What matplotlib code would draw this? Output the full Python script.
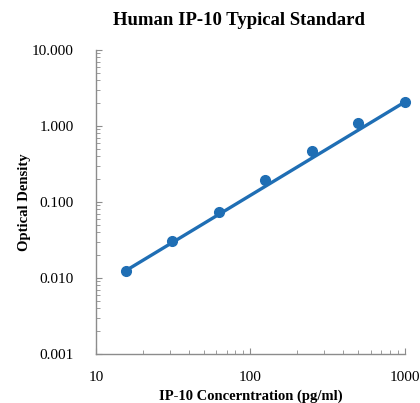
import numpy as np
import matplotlib
matplotlib.use("Agg")
import matplotlib.pyplot as plt
from matplotlib.ticker import FixedLocator, FixedFormatter, LogLocator, NullFormatter

# standard curve data
concentration = [15.6, 31.25, 62.5, 125, 250, 500, 1000]
optical_density = [0.0125, 0.031, 0.074, 0.194, 0.465, 1.08, 2.07]

x_ticks = [10, 100, 1000]
x_tick_labels = ["10", "100", "1000"]
y_ticks = [0.001, 0.01, 0.1, 1, 10]
y_tick_labels = ["0.001", "0.010", "0.100", "1.000", "10.000"]

plt.rcParams["font.family"] = ["Liberation Serif", "DejaVu Serif"]
blue = "#1F6EB4"
gray = "#8C8C8C"

fig = plt.figure(figsize=(4.2, 4.03), dpi=100)
ax = fig.add_axes([0.2286, 0.1216, 0.7354, 0.7544])

# straight trendline in log-log space from the lowest to the highest standard
fit_x = [concentration[0], concentration[-1]]
fit_y = [optical_density[0], optical_density[-1]]
ax.plot(fit_x, fit_y, color=blue, linewidth=2.4, solid_capstyle="round", clip_on=False)
ax.plot(concentration, optical_density, "o", color=blue, markersize=7, clip_on=False)

ax.set_xscale("log")
ax.set_yscale("log")
ax.set_xlim(10, 1000)
ax.set_ylim(0.001, 10)

ax.xaxis.set_major_locator(FixedLocator(x_ticks))
ax.xaxis.set_major_formatter(FixedFormatter(x_tick_labels))
ax.yaxis.set_major_locator(FixedLocator(y_ticks))
ax.yaxis.set_major_formatter(FixedFormatter(y_tick_labels))
ax.xaxis.set_minor_locator(LogLocator(base=10, subs=np.arange(2, 10)))
ax.yaxis.set_minor_locator(LogLocator(base=10, subs=np.arange(2, 10)))
ax.xaxis.set_minor_formatter(NullFormatter())
ax.yaxis.set_minor_formatter(NullFormatter())

for side in ["top", "right"]:
    ax.spines[side].set_visible(False)
for side in ["left", "bottom"]:
    ax.spines[side].set_color(gray)
    ax.spines[side].set_linewidth(1.0)

ax.tick_params(which="major", direction="in", length=4, color=gray, labelsize=11, pad=12)
ax.tick_params(which="minor", direction="in", length=3, color=gray)
ax.tick_params(axis="y", pad=16)

ax.set_title("Human IP-10 Typical Standard", fontsize=13.5, fontweight="bold", pad=18, x=0.463)
ax.set_xlabel("IP-10 Concerntration (pg/ml)", fontsize=10.5, fontweight="bold", labelpad=4)
ax.set_ylabel("Optical Density", fontsize=10.5, fontweight="bold", labelpad=0.5)

fig.savefig("out.png", dpi=100)
